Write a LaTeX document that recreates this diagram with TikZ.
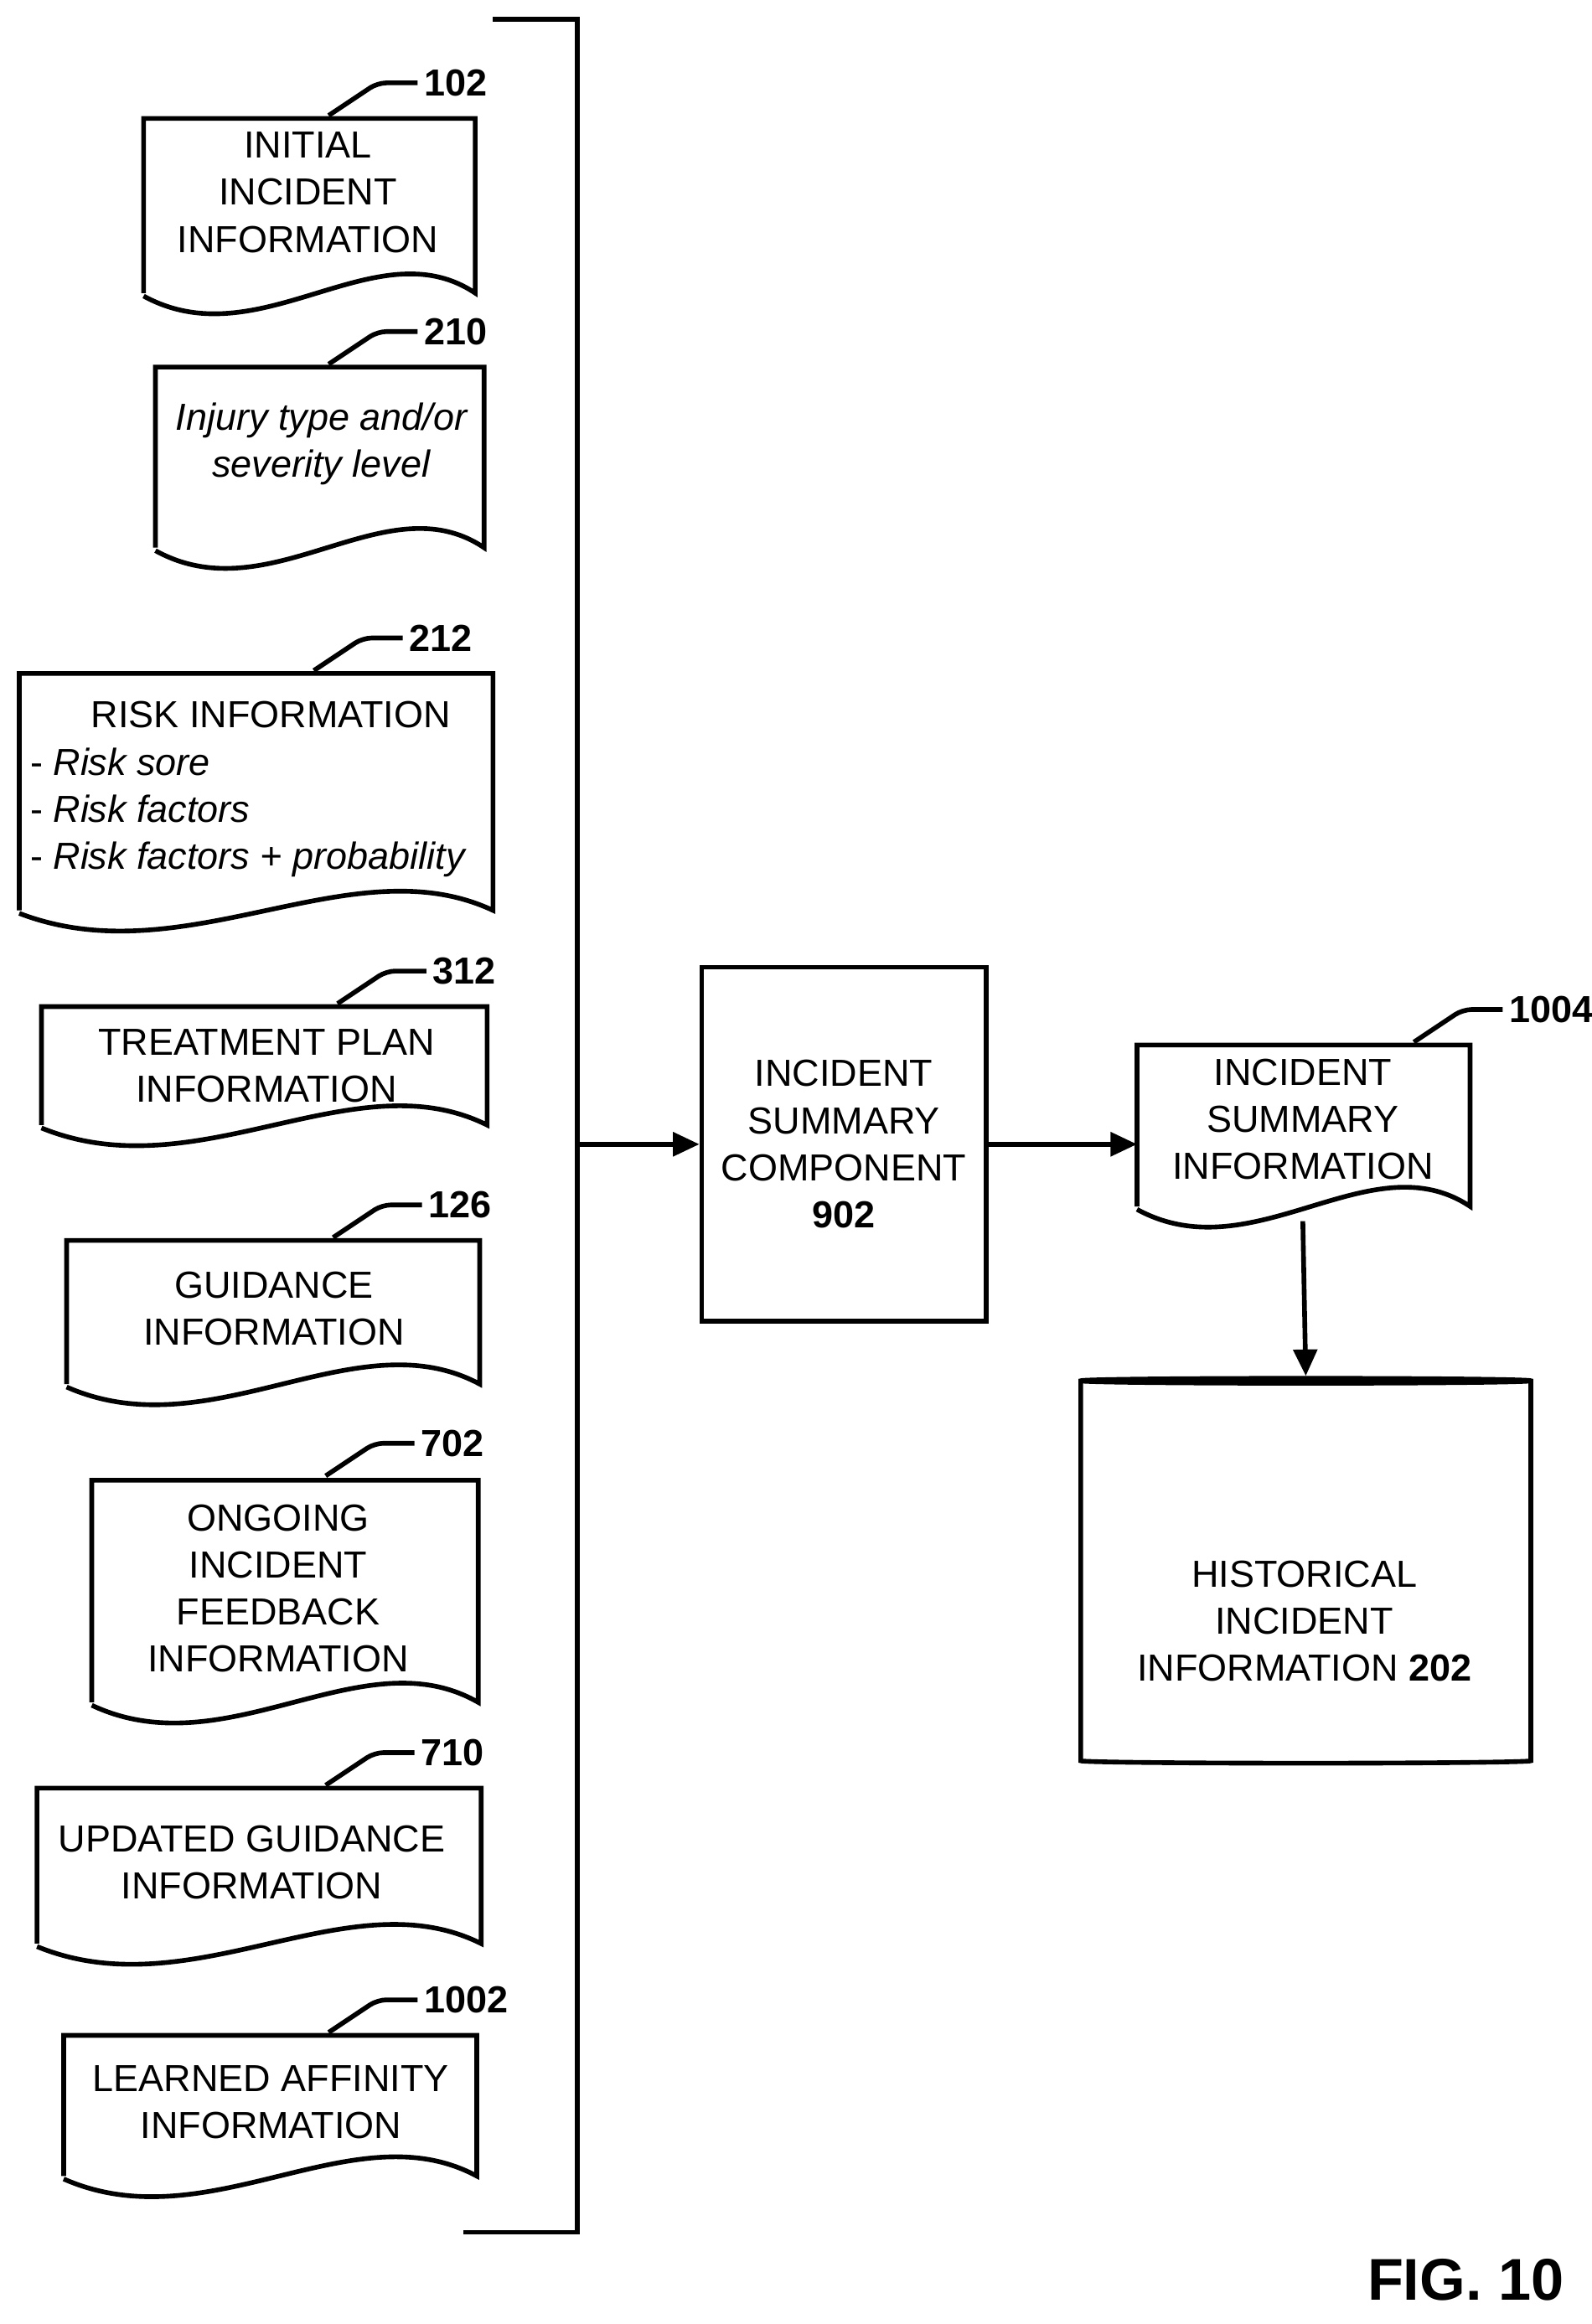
\documentclass[tikz,border=0pt]{standalone}
\usepackage{fontspec}
\setmainfont{Liberation Sans}
\usetikzlibrary{arrows.meta}
\usetikzlibrary{shapes.geometric}

% document shape with wavy bottom: name, x1, y1 (top), x2, y2 (bottom)
\newcommand{\docbox}[5]{%
  \draw[line width=1.6pt] (#2,#5) -- (#2,#3) -- (#4,#3) -- (#4,#5)
    .. controls ({#4-0.3*(#4-#2)},{#5-45}) and ({#2+0.35*(#4-#2)},{#5+45}) .. (#2,{#5+2});
  \coordinate (#1) at ({(#2+#4)/2},#3);}

% reference label with leader: name, start x, start y, text
\newcommand{\reflabel}[4]{%
  \draw[line width=1.6pt, rounded corners=3pt] (#2,#3) -- ({#2+33},{#3-22}) -- ({#2+60},{#3-22});
  \node[lbl, anchor=west] (#1) at ({#2+62},{#3-22}) {#4};}

\begin{document}
\begin{tikzpicture}[
  x=0.01767cm, y=-0.01767cm,
  font=\fontsize{12.8}{16}\selectfont,
  txt/.style={align=center, inner sep=0pt},
  lbl/.style={font=\fontsize{12.8}{16}\selectfont\bfseries, inner sep=1pt},
  arrow/.style={-{Triangle[length=9pt,width=8pt]}, line width=1.6pt}
]
\useasboundingbox (0,0) rectangle (1075,1570);

% input documents
\docbox{d102}{97}{80}{321}{198}
\node[txt] (t102) at (208,130) {INITIAL\\INCIDENT\\INFORMATION};
\reflabel{l102}{222}{78}{102}

\docbox{d210}{105}{248}{327}{370}
\node[txt, font=\fontsize{12.8}{16}\selectfont\itshape] (t210) at (217,300) {Injury type and/or\\severity level};
\reflabel{l210}{222}{246}{210}

\docbox{d212}{13}{455}{333}{615}
\node[txt] (t212) at (183,483) {RISK INFORMATION};
\node[anchor=west, align=left, inner sep=0pt] (t212b) at (20,549)
  {- \textit{Risk sore}\\- \textit{Risk factors}\\- \textit{Risk factors + probability}};
\reflabel{l212}{212}{453}{212}

\docbox{d312}{28}{680}{329}{760}
\node[txt] (t312) at (180,720) {TREATMENT PLAN\\INFORMATION};
\reflabel{l312}{228}{678}{312}

\docbox{d126}{45}{838}{324}{935}
\node[txt] (t126) at (185,884) {GUIDANCE\\INFORMATION};
\reflabel{l126}{225}{836}{126}

\docbox{d702}{62}{1000}{323}{1150}
\node[txt] (t702) at (188,1073) {ONGOING\\INCIDENT\\FEEDBACK\\INFORMATION};
\reflabel{l702}{220}{997}{702}

\docbox{d710}{25}{1208}{325}{1313}
\node[txt] (t710) at (170,1258) {UPDATED GUIDANCE\\INFORMATION};
\reflabel{l710}{220}{1206}{710}

\docbox{d1002}{43}{1375}{322}{1470}
\node[txt] (t1002) at (183,1420) {LEARNED AFFINITY\\INFORMATION};
\reflabel{l1002}{222}{1373}{1002}

% bracket
\draw[line width=1.6pt] (333,13) -- (390,13) -- (390,1508) -- (313,1508);
\coordinate (brk) at (390,773);

% summary component
\node[draw, line width=1.6pt, minimum width=192*0.01767cm, minimum height=239*0.01767cm, align=center]
  (c902) at (570,773) {INCIDENT\\SUMMARY\\COMPONENT\\\textbf{902}};
\draw[arrow] (brk) -- (c902.west);

% summary information document
\docbox{d1004}{768}{706}{993}{815}
\node[txt] (t1004) at (880,756) {INCIDENT\\SUMMARY\\INFORMATION};
\reflabel{l1004}{955}{704}{1004}
\coordinate (in1004) at (768,773);
\draw[arrow] (c902.east) -- (in1004);

% historical database
\node[cylinder, shape border rotate=90, draw, line width=1.6pt, aspect=0.25,
  minimum width=304*0.01767cm, minimum height=260*0.01767cm, align=center]
  (db202) at (882,1063) {};
\node[txt] (t202) at (881,1095) {HISTORICAL\\INCIDENT\\INFORMATION \textbf{202}};
\coordinate (out1004) at (880,825);
\draw[arrow] (out1004) -- (db202.top);

\node[font=\fontsize{20}{24}\selectfont\bfseries] (fig) at (990,1540) {FIG. 10};
\end{tikzpicture}
\end{document}
